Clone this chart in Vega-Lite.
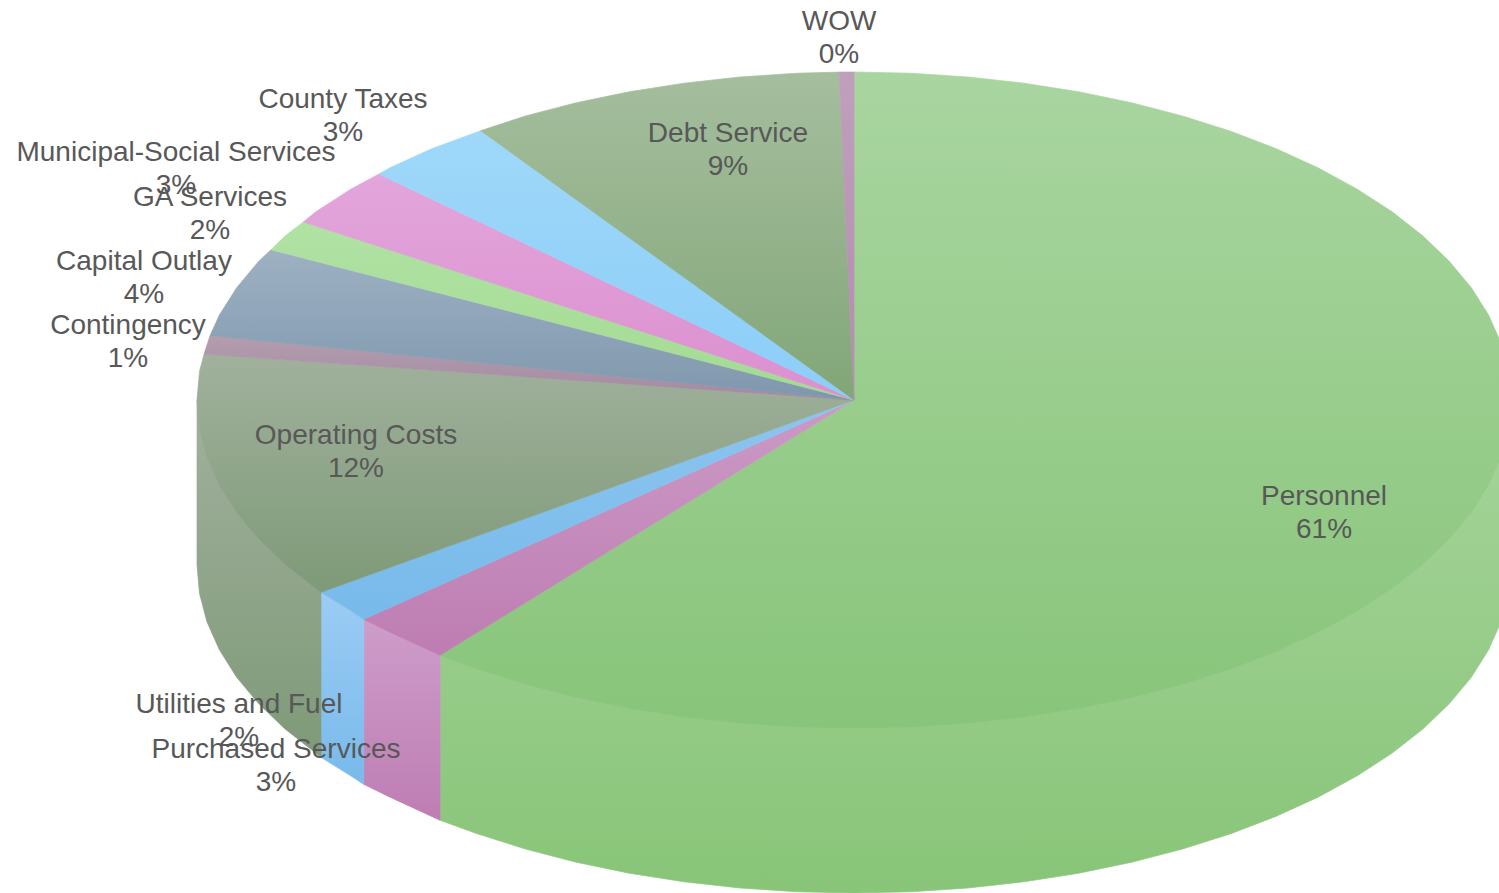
{"$schema":"https://vega.github.io/schema/vega-lite/v6.json","width":1499,"height":893,"padding":0,"autosize":{"type":"fit","contains":"padding"},"background":"white","config":{"view":{"stroke":null}},
"datasets":{"faces":[
{"face":"Personnel wall","n":1,"x":1,"y":0},{"face":"Personnel wall","n":2,"x":1,"y":-0.503},{"face":"Personnel wall","n":3,"x":0.9962,"y":-0.5902},{"face":"Personnel wall","n":4,"x":0.9848,"y":-0.6766},{"face":"Personnel wall","n":5,"x":0.9659,"y":-0.7618},{"face":"Personnel wall","n":6,"x":0.9397,"y":-0.845},{"face":"Personnel wall","n":7,"x":0.9063,"y":-0.9256},{"face":"Personnel wall","n":8,"x":0.866,"y":-1.003},{"face":"Personnel wall","n":9,"x":0.8192,"y":-1.0766},{"face":"Personnel wall","n":10,"x":0.766,"y":-1.1458},{"face":"Personnel wall","n":11,"x":0.7071,"y":-1.2101},{"face":"Personnel wall","n":12,"x":0.6428,"y":-1.269},{"face":"Personnel wall","n":13,"x":0.5736,"y":-1.3222},{"face":"Personnel wall","n":14,"x":0.5,"y":-1.369},{"face":"Personnel wall","n":15,"x":0.4226,"y":-1.4093},{"face":"Personnel wall","n":16,"x":0.342,"y":-1.4427},{"face":"Personnel wall","n":17,"x":0.2588,"y":-1.4689},{"face":"Personnel wall","n":18,"x":0.1736,"y":-1.4878},{"face":"Personnel wall","n":19,"x":0.0872,"y":-1.4992},{"face":"Personnel wall","n":20,"x":0,"y":-1.503},{"face":"Personnel wall","n":21,"x":-0.0872,"y":-1.4992},{"face":"Personnel wall","n":22,"x":-0.1736,"y":-1.4878},{"face":"Personnel wall","n":23,"x":-0.2588,"y":-1.4689},{"face":"Personnel wall","n":24,"x":-0.342,"y":-1.4427},{"face":"Personnel wall","n":25,"x":-0.4226,"y":-1.4093},{"face":"Personnel wall","n":26,"x":-0.5,"y":-1.369},{"face":"Personnel wall","n":27,"x":-0.5736,"y":-1.3222},{"face":"Personnel wall","n":28,"x":-0.6301,"y":-1.2814},{"face":"Personnel wall","n":29,"x":-0.6301,"y":-0.7784},
{"face":"Purchased wall","n":1,"x":-0.6301,"y":-0.7784},{"face":"Purchased wall","n":2,"x":-0.6301,"y":-1.2814},{"face":"Purchased wall","n":3,"x":-0.7071,"y":-1.2101},{"face":"Purchased wall","n":4,"x":-0.7463,"y":-1.1716},{"face":"Purchased wall","n":5,"x":-0.7463,"y":-0.6686},
{"face":"Utilities wall","n":1,"x":-0.7463,"y":-0.6686},{"face":"Utilities wall","n":2,"x":-0.7463,"y":-1.1716},{"face":"Utilities wall","n":3,"x":-0.766,"y":-1.1458},{"face":"Utilities wall","n":4,"x":-0.8113,"y":-1.0893},{"face":"Utilities wall","n":5,"x":-0.8113,"y":-0.5863},
{"face":"Operating wall","n":1,"x":-0.8113,"y":-0.5863},{"face":"Operating wall","n":2,"x":-0.8113,"y":-1.0893},{"face":"Operating wall","n":3,"x":-0.8192,"y":-1.0766},{"face":"Operating wall","n":4,"x":-0.866,"y":-1.003},{"face":"Operating wall","n":5,"x":-0.9063,"y":-0.9256},{"face":"Operating wall","n":6,"x":-0.9397,"y":-0.845},{"face":"Operating wall","n":7,"x":-0.9659,"y":-0.7618},{"face":"Operating wall","n":8,"x":-0.9848,"y":-0.6766},{"face":"Operating wall","n":9,"x":-0.9962,"y":-0.5902},{"face":"Operating wall","n":10,"x":-1,"y":-0.503},{"face":"Operating wall","n":11,"x":-1,"y":0},
{"face":"Personnel","n":1,"x":0,"y":0},{"face":"Personnel","n":2,"x":0,"y":1},{"face":"Personnel","n":3,"x":0.0872,"y":0.9962},{"face":"Personnel","n":4,"x":0.1736,"y":0.9848},{"face":"Personnel","n":5,"x":0.2588,"y":0.9659},{"face":"Personnel","n":6,"x":0.342,"y":0.9397},{"face":"Personnel","n":7,"x":0.4226,"y":0.9063},{"face":"Personnel","n":8,"x":0.5,"y":0.866},{"face":"Personnel","n":9,"x":0.5736,"y":0.8192},{"face":"Personnel","n":10,"x":0.6428,"y":0.766},{"face":"Personnel","n":11,"x":0.7071,"y":0.7071},{"face":"Personnel","n":12,"x":0.766,"y":0.6428},{"face":"Personnel","n":13,"x":0.8192,"y":0.5736},{"face":"Personnel","n":14,"x":0.866,"y":0.5},{"face":"Personnel","n":15,"x":0.9063,"y":0.4226},{"face":"Personnel","n":16,"x":0.9397,"y":0.342},{"face":"Personnel","n":17,"x":0.9659,"y":0.2588},{"face":"Personnel","n":18,"x":0.9848,"y":0.1736},{"face":"Personnel","n":19,"x":0.9962,"y":0.0872},{"face":"Personnel","n":20,"x":1,"y":0},{"face":"Personnel","n":21,"x":0.9962,"y":-0.0872},{"face":"Personnel","n":22,"x":0.9848,"y":-0.1736},{"face":"Personnel","n":23,"x":0.9659,"y":-0.2588},{"face":"Personnel","n":24,"x":0.9397,"y":-0.342},{"face":"Personnel","n":25,"x":0.9063,"y":-0.4226},{"face":"Personnel","n":26,"x":0.866,"y":-0.5},{"face":"Personnel","n":27,"x":0.8192,"y":-0.5736},{"face":"Personnel","n":28,"x":0.766,"y":-0.6428},{"face":"Personnel","n":29,"x":0.7071,"y":-0.7071},{"face":"Personnel","n":30,"x":0.6428,"y":-0.766},{"face":"Personnel","n":31,"x":0.5736,"y":-0.8192},{"face":"Personnel","n":32,"x":0.5,"y":-0.866},{"face":"Personnel","n":33,"x":0.4226,"y":-0.9063},{"face":"Personnel","n":34,"x":0.342,"y":-0.9397},{"face":"Personnel","n":35,"x":0.2588,"y":-0.9659},{"face":"Personnel","n":36,"x":0.1736,"y":-0.9848},{"face":"Personnel","n":37,"x":0.0872,"y":-0.9962},{"face":"Personnel","n":38,"x":0,"y":-1},{"face":"Personnel","n":39,"x":-0.0872,"y":-0.9962},{"face":"Personnel","n":40,"x":-0.1736,"y":-0.9848},{"face":"Personnel","n":41,"x":-0.2588,"y":-0.9659},{"face":"Personnel","n":42,"x":-0.342,"y":-0.9397},{"face":"Personnel","n":43,"x":-0.4226,"y":-0.9063},{"face":"Personnel","n":44,"x":-0.5,"y":-0.866},{"face":"Personnel","n":45,"x":-0.5736,"y":-0.8192},{"face":"Personnel","n":46,"x":-0.6301,"y":-0.7784},
{"face":"Purchased Services","n":1,"x":0,"y":0},{"face":"Purchased Services","n":2,"x":-0.6301,"y":-0.7784},{"face":"Purchased Services","n":3,"x":-0.7071,"y":-0.7071},{"face":"Purchased Services","n":4,"x":-0.7463,"y":-0.6686},
{"face":"Utilities and Fuel","n":1,"x":0,"y":0},{"face":"Utilities and Fuel","n":2,"x":-0.7463,"y":-0.6686},{"face":"Utilities and Fuel","n":3,"x":-0.766,"y":-0.6428},{"face":"Utilities and Fuel","n":4,"x":-0.8113,"y":-0.5863},
{"face":"Operating Costs","n":1,"x":0,"y":0},{"face":"Operating Costs","n":2,"x":-0.8113,"y":-0.5863},{"face":"Operating Costs","n":3,"x":-0.8192,"y":-0.5736},{"face":"Operating Costs","n":4,"x":-0.866,"y":-0.5},{"face":"Operating Costs","n":5,"x":-0.9063,"y":-0.4226},{"face":"Operating Costs","n":6,"x":-0.9397,"y":-0.342},{"face":"Operating Costs","n":7,"x":-0.9659,"y":-0.2588},{"face":"Operating Costs","n":8,"x":-0.9848,"y":-0.1736},{"face":"Operating Costs","n":9,"x":-0.9962,"y":-0.0872},{"face":"Operating Costs","n":10,"x":-1,"y":0},{"face":"Operating Costs","n":11,"x":-0.9962,"y":0.0872},{"face":"Operating Costs","n":12,"x":-0.9893,"y":0.1393},
{"face":"Contingency","n":1,"x":0,"y":0},{"face":"Contingency","n":2,"x":-0.9893,"y":0.1393},{"face":"Contingency","n":3,"x":-0.9802,"y":0.196},
{"face":"Capital Outlay","n":1,"x":0,"y":0},{"face":"Capital Outlay","n":2,"x":-0.9802,"y":0.196},{"face":"Capital Outlay","n":3,"x":-0.9659,"y":0.2588},{"face":"Capital Outlay","n":4,"x":-0.9397,"y":0.342},{"face":"Capital Outlay","n":5,"x":-0.9063,"y":0.4226},{"face":"Capital Outlay","n":6,"x":-0.8874,"y":0.4582},
{"face":"GA Services","n":1,"x":0,"y":0},{"face":"GA Services","n":2,"x":-0.8874,"y":0.4582},{"face":"GA Services","n":3,"x":-0.866,"y":0.5},{"face":"GA Services","n":4,"x":-0.8382,"y":0.5427},
{"face":"Municipal-Social Services","n":1,"x":0,"y":0},{"face":"Municipal-Social Services","n":2,"x":-0.8382,"y":0.5427},{"face":"Municipal-Social Services","n":3,"x":-0.8192,"y":0.5736},{"face":"Municipal-Social Services","n":4,"x":-0.766,"y":0.6428},{"face":"Municipal-Social Services","n":5,"x":-0.723,"y":0.689},
{"face":"County Taxes","n":1,"x":0,"y":0},{"face":"County Taxes","n":2,"x":-0.723,"y":0.689},{"face":"County Taxes","n":3,"x":-0.7071,"y":0.7071},{"face":"County Taxes","n":4,"x":-0.6428,"y":0.766},{"face":"County Taxes","n":5,"x":-0.5682,"y":0.821},
{"face":"Debt Service","n":1,"x":0,"y":0},{"face":"Debt Service","n":2,"x":-0.5682,"y":0.821},{"face":"Debt Service","n":3,"x":-0.5,"y":0.866},{"face":"Debt Service","n":4,"x":-0.4226,"y":0.9063},{"face":"Debt Service","n":5,"x":-0.342,"y":0.9397},{"face":"Debt Service","n":6,"x":-0.2588,"y":0.9659},{"face":"Debt Service","n":7,"x":-0.1736,"y":0.9848},{"face":"Debt Service","n":8,"x":-0.0872,"y":0.9962},{"face":"Debt Service","n":9,"x":-0.0228,"y":0.9997},
{"face":"WOW","n":1,"x":0,"y":0},{"face":"WOW","n":2,"x":-0.0228,"y":0.9997},{"face":"WOW","n":3,"x":0,"y":1}
],
"labels":[
{"label":"Personnel\n61%","x":0.7154,"y":-0.3415},
{"label":"Purchased Services\n3%","x":-0.8798,"y":-1.1128},
{"label":"Utilities and Fuel\n2%","x":-0.9361,"y":-0.9756},
{"label":"Operating Costs\n12%","x":-0.758,"y":-0.1555},
{"label":"Contingency\n1%","x":-1.105,"y":0.1799},
{"label":"Capital Outlay\n4%","x":-1.0807,"y":0.375},
{"label":"GA Services\n2%","x":-0.9802,"y":0.5701},
{"label":"Municipal-Social Services\n3%","x":-1.032,"y":0.7073},
{"label":"County Taxes\n3%","x":-0.7778,"y":0.8689},
{"label":"Debt Service\n9%","x":-0.1918,"y":0.7652},
{"label":"WOW\n0%","x":-0.0228,"y":1.1067}
]},
"encoding":{
"x":{"field":"x","type":"quantitative","axis":null,"scale":{"domain":[-1.29985,0.98174],"nice":false,"zero":false}},
"y":{"field":"y","type":"quantitative","axis":null,"scale":{"domain":[-1.50305,1.21951],"nice":false,"zero":false}}
},
"layer":[
{"data":{"name":"faces"},"transform":[{"filter":{"field":"face","equal":"Personnel wall"}}],"mark":{"type":"line","strokeWidth":0.7,"clip":true,"interpolate":"linear-closed","stroke":{"gradient":"linear","x1":0,"y1":0,"x2":0,"y2":1,"stops":[{"offset":0,"color":"#A6D49B"},{"offset":1,"color":"#88C578"}]},"fill":{"gradient":"linear","x1":0,"y1":0,"x2":0,"y2":1,"stops":[{"offset":0,"color":"#A6D49B"},{"offset":1,"color":"#88C578"}]}},"encoding":{"order":{"field":"n","type":"quantitative"}}},
{"data":{"name":"faces"},"transform":[{"filter":{"field":"face","equal":"Purchased wall"}}],"mark":{"type":"line","strokeWidth":0.7,"clip":true,"interpolate":"linear-closed","stroke":{"gradient":"linear","x1":0,"y1":0,"x2":0,"y2":1,"stops":[{"offset":0,"color":"#CE9DCA"},{"offset":1,"color":"#BE7DB3"}]},"fill":{"gradient":"linear","x1":0,"y1":0,"x2":0,"y2":1,"stops":[{"offset":0,"color":"#CE9DCA"},{"offset":1,"color":"#BE7DB3"}]}},"encoding":{"order":{"field":"n","type":"quantitative"}}},
{"data":{"name":"faces"},"transform":[{"filter":{"field":"face","equal":"Utilities wall"}}],"mark":{"type":"line","strokeWidth":0.7,"clip":true,"interpolate":"linear-closed","stroke":{"gradient":"linear","x1":0,"y1":0,"x2":0,"y2":1,"stops":[{"offset":0,"color":"#9CCCF4"},{"offset":1,"color":"#78BAEB"}]},"fill":{"gradient":"linear","x1":0,"y1":0,"x2":0,"y2":1,"stops":[{"offset":0,"color":"#9CCCF4"},{"offset":1,"color":"#78BAEB"}]}},"encoding":{"order":{"field":"n","type":"quantitative"}}},
{"data":{"name":"faces"},"transform":[{"filter":{"field":"face","equal":"Operating wall"}}],"mark":{"type":"line","strokeWidth":0.7,"clip":true,"interpolate":"linear-closed","stroke":{"gradient":"linear","x1":0,"y1":0,"x2":0,"y2":1,"stops":[{"offset":0,"color":"#A2B09D"},{"offset":1,"color":"#7E9A78"}]},"fill":{"gradient":"linear","x1":0,"y1":0,"x2":0,"y2":1,"stops":[{"offset":0,"color":"#A2B09D"},{"offset":1,"color":"#7E9A78"}]}},"encoding":{"order":{"field":"n","type":"quantitative"}}},
{"data":{"name":"faces"},"transform":[{"filter":{"field":"face","equal":"Personnel"}}],"mark":{"type":"line","strokeWidth":0.7,"clip":true,"interpolate":"linear-closed","stroke":{"gradient":"linear","x1":0,"y1":0,"x2":0,"y2":1,"stops":[{"offset":0,"color":"#A9D5A0"},{"offset":1,"color":"#88C57A"}]},"fill":{"gradient":"linear","x1":0,"y1":0,"x2":0,"y2":1,"stops":[{"offset":0,"color":"#A9D5A0"},{"offset":1,"color":"#88C57A"}]}},"encoding":{"order":{"field":"n","type":"quantitative"}}},
{"data":{"name":"faces"},"transform":[{"filter":{"field":"face","equal":"Purchased Services"}}],"mark":{"type":"line","strokeWidth":0.7,"clip":true,"interpolate":"linear-closed","stroke":{"gradient":"linear","x1":0,"y1":0,"x2":0,"y2":1,"stops":[{"offset":0,"color":"#CB9AC6"},{"offset":1,"color":"#BE7DB2"}]},"fill":{"gradient":"linear","x1":0,"y1":0,"x2":0,"y2":1,"stops":[{"offset":0,"color":"#CB9AC6"},{"offset":1,"color":"#BE7DB2"}]}},"encoding":{"order":{"field":"n","type":"quantitative"}}},
{"data":{"name":"faces"},"transform":[{"filter":{"field":"face","equal":"Utilities and Fuel"}}],"mark":{"type":"line","strokeWidth":0.7,"clip":true,"interpolate":"linear-closed","stroke":{"gradient":"linear","x1":0,"y1":0,"x2":0,"y2":1,"stops":[{"offset":0,"color":"#8CC5EF"},{"offset":1,"color":"#77BAEB"}]},"fill":{"gradient":"linear","x1":0,"y1":0,"x2":0,"y2":1,"stops":[{"offset":0,"color":"#8CC5EF"},{"offset":1,"color":"#77BAEB"}]}},"encoding":{"order":{"field":"n","type":"quantitative"}}},
{"data":{"name":"faces"},"transform":[{"filter":{"field":"face","equal":"Operating Costs"}}],"mark":{"type":"line","strokeWidth":0.7,"clip":true,"interpolate":"linear-closed","stroke":{"gradient":"linear","x1":0,"y1":0,"x2":0,"y2":1,"stops":[{"offset":0,"color":"#A1B19C"},{"offset":1,"color":"#7E9A78"}]},"fill":{"gradient":"linear","x1":0,"y1":0,"x2":0,"y2":1,"stops":[{"offset":0,"color":"#A1B19C"},{"offset":1,"color":"#7E9A78"}]}},"encoding":{"order":{"field":"n","type":"quantitative"}}},
{"data":{"name":"faces"},"transform":[{"filter":{"field":"face","equal":"Contingency"}}],"mark":{"type":"line","strokeWidth":0.7,"clip":true,"interpolate":"linear-closed","stroke":{"gradient":"linear","x1":0,"y1":0,"x2":0,"y2":1,"stops":[{"offset":0,"color":"#B39DAE"},{"offset":1,"color":"#A38AA1"}]},"fill":{"gradient":"linear","x1":0,"y1":0,"x2":0,"y2":1,"stops":[{"offset":0,"color":"#B39DAE"},{"offset":1,"color":"#A38AA1"}]}},"encoding":{"order":{"field":"n","type":"quantitative"}}},
{"data":{"name":"faces"},"transform":[{"filter":{"field":"face","equal":"Capital Outlay"}}],"mark":{"type":"line","strokeWidth":0.7,"clip":true,"interpolate":"linear-closed","stroke":{"gradient":"linear","x1":0,"y1":0,"x2":0,"y2":1,"stops":[{"offset":0,"color":"#9EB1C3"},{"offset":1,"color":"#7F97AD"}]},"fill":{"gradient":"linear","x1":0,"y1":0,"x2":0,"y2":1,"stops":[{"offset":0,"color":"#9EB1C3"},{"offset":1,"color":"#7F97AD"}]}},"encoding":{"order":{"field":"n","type":"quantitative"}}},
{"data":{"name":"faces"},"transform":[{"filter":{"field":"face","equal":"GA Services"}}],"mark":{"type":"line","strokeWidth":0.7,"clip":true,"interpolate":"linear-closed","stroke":{"gradient":"linear","x1":0,"y1":0,"x2":0,"y2":1,"stops":[{"offset":0,"color":"#B0E2A4"},{"offset":1,"color":"#A3DB92"}]},"fill":{"gradient":"linear","x1":0,"y1":0,"x2":0,"y2":1,"stops":[{"offset":0,"color":"#B0E2A4"},{"offset":1,"color":"#A3DB92"}]}},"encoding":{"order":{"field":"n","type":"quantitative"}}},
{"data":{"name":"faces"},"transform":[{"filter":{"field":"face","equal":"Municipal-Social Services"}}],"mark":{"type":"line","strokeWidth":0.7,"clip":true,"interpolate":"linear-closed","stroke":{"gradient":"linear","x1":0,"y1":0,"x2":0,"y2":1,"stops":[{"offset":0,"color":"#E2A6DB"},{"offset":1,"color":"#DC8FCF"}]},"fill":{"gradient":"linear","x1":0,"y1":0,"x2":0,"y2":1,"stops":[{"offset":0,"color":"#E2A6DB"},{"offset":1,"color":"#DC8FCF"}]}},"encoding":{"order":{"field":"n","type":"quantitative"}}},
{"data":{"name":"faces"},"transform":[{"filter":{"field":"face","equal":"County Taxes"}}],"mark":{"type":"line","strokeWidth":0.7,"clip":true,"interpolate":"linear-closed","stroke":{"gradient":"linear","x1":0,"y1":0,"x2":0,"y2":1,"stops":[{"offset":0,"color":"#9FD8F9"},{"offset":1,"color":"#8CCDF8"}]},"fill":{"gradient":"linear","x1":0,"y1":0,"x2":0,"y2":1,"stops":[{"offset":0,"color":"#9FD8F9"},{"offset":1,"color":"#8CCDF8"}]}},"encoding":{"order":{"field":"n","type":"quantitative"}}},
{"data":{"name":"faces"},"transform":[{"filter":{"field":"face","equal":"Debt Service"}}],"mark":{"type":"line","strokeWidth":0.7,"clip":true,"interpolate":"linear-closed","stroke":{"gradient":"linear","x1":0,"y1":0,"x2":0,"y2":1,"stops":[{"offset":0,"color":"#A5BE9E"},{"offset":1,"color":"#82A678"}]},"fill":{"gradient":"linear","x1":0,"y1":0,"x2":0,"y2":1,"stops":[{"offset":0,"color":"#A5BE9E"},{"offset":1,"color":"#82A678"}]}},"encoding":{"order":{"field":"n","type":"quantitative"}}},
{"data":{"name":"faces"},"transform":[{"filter":{"field":"face","equal":"WOW"}}],"mark":{"type":"line","strokeWidth":0.7,"clip":true,"interpolate":"linear-closed","stroke":{"gradient":"linear","x1":0,"y1":0,"x2":0,"y2":1,"stops":[{"offset":0,"color":"#BFA0BC"},{"offset":1,"color":"#B58AB0"}]},"fill":{"gradient":"linear","x1":0,"y1":0,"x2":0,"y2":1,"stops":[{"offset":0,"color":"#BFA0BC"},{"offset":1,"color":"#B58AB0"}]}},"encoding":{"order":{"field":"n","type":"quantitative"}}},
{"data":{"name":"labels"},"mark":{"type":"text","font":"Liberation Sans","fontSize":28,"lineBreak":"\n","lineHeight":33,"align":"center","baseline":"middle","dy":-15,"color":"#585858"},"encoding":{"text":{"field":"label","type":"nominal"}}}
]}
